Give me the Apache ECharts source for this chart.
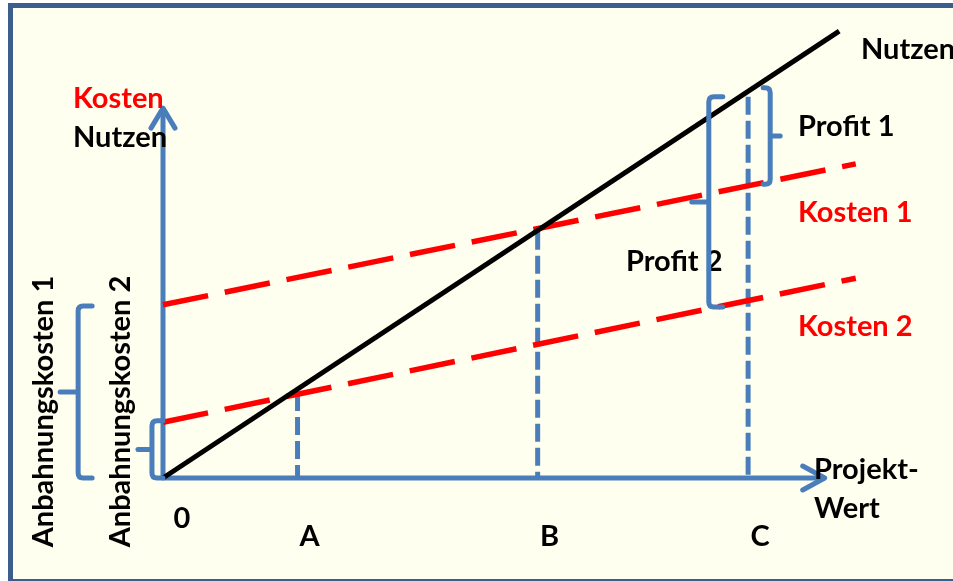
<!DOCTYPE html>
<html>
<head>
<meta charset="utf-8">
<script src="https://cdn.jsdelivr.net/npm/echarts@6/dist/echarts.min.js"></script>
<style>
html,body{margin:0;padding:0;background:#ffffff;}
#chart{width:953px;height:581px;}
</style>
</head>
<body>
<div id="chart"></div>
<script>
// ---- Data (Projekt-Wert on x, Kosten / Nutzen on y; arbitrary units 0..100) ----
const nutzen   = [[0, 0], [98, 99.3]];
const kosten1  = [[0, 38.5], [100.4, 69.8]];
const kosten2  = [[0, 12.4], [100.4, 44.4]];
const tickNames  = ['0', 'A', 'B', 'C'];
const tickValues = [0, 19.5, 54.3, 84.8];
const dropTops   = [null, 18.9, 54.7, 84.7];   // heights of the dashed drop lines at A, B, C
const axisEnds   = { x: 95.9, y: 82.2 };
// brackets: [x, yFrom, yTo]
const bracketAnb1    = [-12.3, 0, 38.2];
const bracketAnb2    = [-1.6, 0, 12.7];
const bracketProfit2 = [79.1, 38.0, 84.7];
const bracketProfit1 = [88.0, 65.3, 86.7];
const labelTexts = {
  yTop: 'Kosten', yBottom: 'Nutzen', nutzen: 'Nutzen', kosten1: 'Kosten 1', kosten2: 'Kosten 2',
  profit1: 'Profit 1', profit2: 'Profit 2', xAxis1: 'Projekt-', xAxis2: 'Wert',
  anb1: 'Anbahnungskosten 1', anb2: 'Anbahnungskosten 2'
};

const BLUE = '#4a7ebb', RED = '#ff0000', BLACK = '#000000';
const FONT = 'bold 29px Lato, "Open Sans", sans-serif';

const chart = echarts.init(document.getElementById('chart'), null, {renderer: 'canvas'});

function bracketSeries(b, dir, arm, tick) {
  // dir = +1 : arms to the right, tick to the left  ("[")
  // dir = -1 : arms to the left,  tick to the right ("]")
  return {
    type: 'custom', coordinateSystem: 'cartesian2d', clip: false, silent: true, z: 6,
    data: [[b[0], b[1], b[2]]],
    renderItem: function (params, api) {
      const p0 = api.coord([api.value(0), api.value(1)]);
      const p1 = api.coord([api.value(0), api.value(2)]);
      const x = p0[0], bot = p0[1], top = p1[1], mid = (top + bot) / 2, r = 5;
      const d = 'M' + (x + dir * arm) + ' ' + top +
        ' L' + (x + dir * r) + ' ' + top +
        ' Q' + x + ' ' + top + ' ' + x + ' ' + (top + r) +
        ' L' + x + ' ' + (bot - r) +
        ' Q' + x + ' ' + bot + ' ' + (x + dir * r) + ' ' + bot +
        ' L' + (x + dir * arm) + ' ' + bot +
        ' M' + x + ' ' + mid + ' L' + (x - dir * tick) + ' ' + mid;
      return {
        type: 'path', shape: {pathData: d},
        style: {stroke: BLUE, lineWidth: 5, fill: null, lineCap: 'round', lineJoin: 'round'}
      };
    }
  };
}

const dropData = [];
for (let i = 1; i < tickValues.length; i++) dropData.push([tickValues[i], dropTops[i]]);

const option = {
  backgroundColor: '#ffffff',
  animation: false,
  grid: {left: 163, top: 28, width: 690, height: 450},
  xAxis: {type: 'value', min: 0, max: 100, show: false},
  yAxis: {type: 'value', min: 0, max: 100, show: false},
  graphic: {
    elements: [
      {type: 'rect', z: -10, shape: {x: 10.5, y: 5.5, width: 980, height: 576},
       style: {fill: '#fffff0', stroke: '#3b5e8c', lineWidth: 5}},
      {type: 'text', z: 20, x: 73, y: 99, style: {text: labelTexts.yTop, font: FONT, fill: RED, textVerticalAlign: 'middle'}},
      {type: 'text', z: 20, x: 73, y: 138, style: {text: labelTexts.yBottom, font: FONT, fill: BLACK, textVerticalAlign: 'middle'}},
      {type: 'text', x: 861, y: 50, style: {text: labelTexts.nutzen, font: FONT, fill: BLACK, textVerticalAlign: 'middle'}},
      {type: 'text', x: 798, y: 127, style: {text: labelTexts.profit1, font: FONT, fill: BLACK, textVerticalAlign: 'middle'}},
      {type: 'text', x: 798, y: 213, style: {text: labelTexts.kosten1, font: FONT, fill: RED, textVerticalAlign: 'middle'}},
      {type: 'text', x: 626, y: 262, style: {text: labelTexts.profit2, font: FONT, fill: BLACK, textVerticalAlign: 'middle'}},
      {type: 'text', x: 798, y: 327, style: {text: labelTexts.kosten2, font: FONT, fill: RED, textVerticalAlign: 'middle'}},
      {type: 'text', z: 20, x: 814, y: 470, style: {text: labelTexts.xAxis1, font: FONT, fill: BLACK, textVerticalAlign: 'middle'}},
      {type: 'text', x: 814, y: 509, style: {text: labelTexts.xAxis2, font: FONT, fill: BLACK, textVerticalAlign: 'middle'}},
      {type: 'text', x: 44, y: 411.5, rotation: Math.PI / 2,
       style: {text: labelTexts.anb1, font: FONT, fill: BLACK, textAlign: 'center', textVerticalAlign: 'middle'}},
      {type: 'text', x: 121, y: 411.5, rotation: Math.PI / 2,
       style: {text: labelTexts.anb2, font: FONT, fill: BLACK, textAlign: 'center', textVerticalAlign: 'middle'}}
    ]
  },
  series: [
    // axes with open arrow heads
    {
      type: 'custom', coordinateSystem: 'cartesian2d', clip: false, silent: true, z: 3,
      data: [[axisEnds.x, axisEnds.y]],
      renderItem: function (params, api) {
        const o = api.coord([0, 0]);
        const tx = api.coord([api.value(0), 0]);
        const ty = api.coord([0, api.value(1)]);
        const st = {stroke: BLUE, lineWidth: 5, fill: null, lineCap: 'round', lineJoin: 'round'};
        return {type: 'group', children: [
          {type: 'polyline', shape: {points: [[o[0], ty[1]], [o[0], o[1]], [tx[0], o[1]]]}, style: Object.assign({}, st, {lineCap: 'butt'})},
          {type: 'polyline', shape: {points: [[ty[0] - 12, ty[1] + 20], [ty[0], ty[1]], [ty[0] + 12, ty[1] + 20]]}, style: st},
          {type: 'polyline', shape: {points: [[tx[0] - 22, tx[1] - 12], [tx[0], tx[1]], [tx[0] - 22, tx[1] + 12]]}, style: st}
        ]};
      }
    },
    // tick labels 0, A, B, C
    {
      type: 'custom', coordinateSystem: 'cartesian2d', clip: false, silent: true, z: 5,
      data: tickValues.map((v, i) => [v, i]),
      renderItem: function (params, api) {
        const p = api.coord([api.value(0), 0]);
        const i = api.value(1);
        const dx = i === 0 ? 19 : 12;
        const dy = i === 0 ? 41 : 59;
        return {type: 'text', x: p[0] + dx, y: p[1] + dy,
          style: {text: tickNames[i], font: FONT, fill: BLACK, textAlign: 'center', textVerticalAlign: 'middle'}};
      }
    },
    {
      name: 'Kosten 1', type: 'line', data: kosten1, symbol: 'none', z: 4,
      lineStyle: {color: RED, width: 5.5, type: [46, 17], cap: 'butt'}
    },
    {
      name: 'Kosten 2', type: 'line', data: kosten2, symbol: 'none', z: 4,
      lineStyle: {color: RED, width: 5.5, type: [46, 17], cap: 'butt'}
    },
    // dashed drop lines at A, B, C
    {
      type: 'custom', coordinateSystem: 'cartesian2d', clip: false, silent: true, z: 3,
      data: dropData,
      renderItem: function (params, api) {
        const t = api.coord([api.value(0), api.value(1)]);
        const b = api.coord([api.value(0), 0]);
        return {type: 'line', shape: {x1: t[0], y1: t[1], x2: b[0], y2: b[1]},
          style: {stroke: BLUE, lineWidth: 5, lineDash: [18, 6]}};
      }
    },
    {
      name: 'Nutzen', type: 'line', data: nutzen, symbol: 'none', z: 5,
      lineStyle: {color: BLACK, width: 5, cap: 'butt'}
    },
    bracketSeries(bracketAnb1, 1, 14, 18),
    bracketSeries(bracketAnb2, 1, 11, 14),
    bracketSeries(bracketProfit2, 1, 14, 17),
    bracketSeries(bracketProfit1, -1, 7, 10)
  ]
};
chart.setOption(option);
</script>
</body>
</html>
